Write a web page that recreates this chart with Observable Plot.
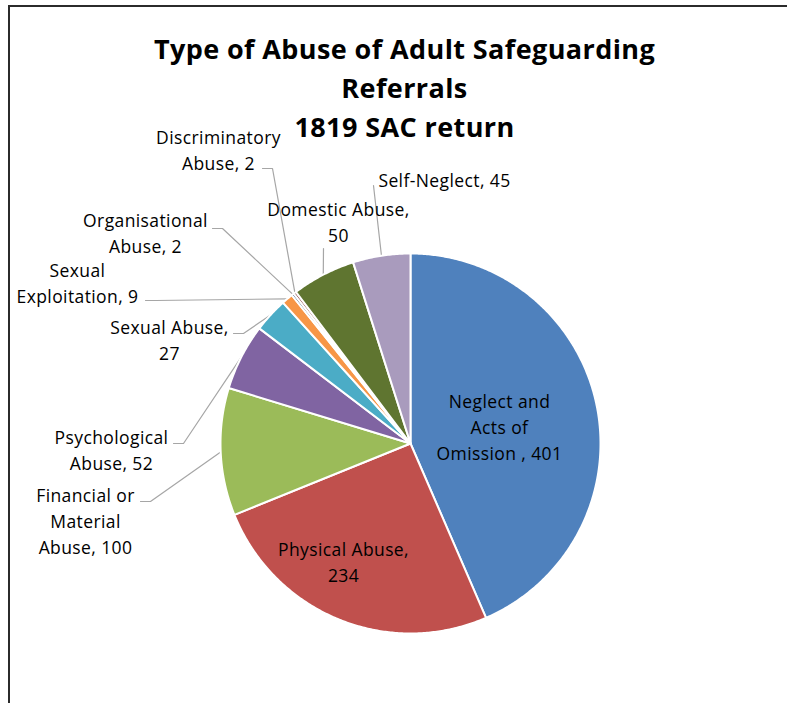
<!DOCTYPE html>
<html><head><meta charset="utf-8">
<script src="https://cdn.jsdelivr.net/npm/d3@7"></script>
<script src="https://cdn.jsdelivr.net/npm/@observablehq/plot@0.6"></script>
<style>
body{margin:0;background:#fff;}
#wrap{position:relative;width:787px;height:703px;overflow:hidden;background:#fff;}
#frame{position:absolute;left:8px;top:5px;width:900px;height:900px;border-left:2px solid #2b2b2b;border-top:2px solid #2b2b2b;box-sizing:border-box;}
#chart{position:absolute;left:0;top:0;}
#chart text{letter-spacing:0.4px;}
</style></head><body><div id="wrap"><div id="frame"></div><div id="chart"></div></div>
<script>
// ---- data ----
const categories = [
  "Neglect and Acts of Omission ",
  "Physical Abuse",
  "Financial or Material Abuse",
  "Psychological Abuse",
  "Sexual Abuse",
  "Sexual Exploitation",
  "Organisational Abuse",
  "Discriminatory Abuse",
  "Domestic Abuse",
  "Self-Neglect"
];
const values = [401, 234, 100, 52, 27, 9, 2, 2, 50, 45];
const colors = ["#4F81BD","#C0504D","#9BBB59","#8064A2","#4BACC6","#F79646","#2C4D75","#772C2A","#5F7530","#A99BBD"];
const titleLines = ["Type of Abuse of Adult Safeguarding", "Referrals", "1819 SAC return"];

// ---- layout (pixels) ----
const W = 787, H = 703, CX = 410, CY = 443, R = 190;
const FONT = "'Open Sans', Lato, sans-serif";
const LABEL_SIZE = 17.5, LINE_PX = 26;
const layout = [
  {x: 499, y: 399, wrap: 14, leader: null},
  {x: 343, y: 547, wrap: 15, leader: null},
  {x: 85,  y: 493, wrap: 12, leader: [[140, 501], [150, 501]]},
  {x: 111, y: 435, wrap: 13, leader: [[173, 443], [183, 443]]},
  {x: 169, y: 325, wrap: 13, leader: [[233, 333], [243, 333]]},
  {x: 77,  y: 268, wrap: 15, leader: [[145, 300], [155, 300]]},
  {x: 145, y: 218, wrap: 14, leader: [[212, 228], [222, 228]]},
  {x: 218, y: 135, wrap: 14, leader: [[262, 168], [272, 168]]},
  {x: 338, y: 207, wrap: 15, leader: [[323, 248]]},
  {x: 444, y: 178, wrap: 20, leader: [[373, 185]]}
];

function wrapText(s, max) {
  const words = s.split(" ");
  const lines = [];
  let cur = "";
  for (const w of words) {
    if (cur === "") cur = w;
    else if ((cur + " " + w).length <= max) cur += " " + w;
    else { lines.push(cur); cur = w; }
  }
  if (cur) lines.push(cur);
  return lines;
}

const arcs = d3.pie().sort(null).value(d => d)(values);

// slice polygons
const slicePts = [];
arcs.forEach((a, i) => {
  const name = categories[i];
  slicePts.push({name, x: CX, y: CY});
  const n = Math.max(2, Math.ceil((a.endAngle - a.startAngle) / (Math.PI / 360)));
  for (let k = 0; k <= n; k++) {
    const t = a.startAngle + (a.endAngle - a.startAngle) * k / n;
    slicePts.push({name, x: CX + R * Math.sin(t), y: CY - R * Math.cos(t)});
  }
  slicePts.push({name, x: CX, y: CY});
});

// leader lines
const leaderPts = [];
arcs.forEach((a, i) => {
  const L = layout[i];
  if (!L.leader) return;
  const name = categories[i];
  L.leader.forEach(p => leaderPts.push({name, x: p[0], y: p[1]}));
  const m = (a.startAngle + a.endAngle) / 2;
  leaderPts.push({name, x: CX + R * Math.sin(m), y: CY - R * Math.cos(m)});
});

// labels
const labels = arcs.map((a, i) => {
  const L = layout[i];
  const lines = wrapText(categories[i] + ", " + values[i], L.wrap);
  return {text: lines.join("\n"), x: L.x, y: L.y + (lines.length - 1) * LINE_PX / 2};
});

const titleData = [{text: titleLines.join("\n"), x: 404, y: 85}];

const chart = Plot.plot({
  width: W, height: H,
  margin: 0,
  x: {domain: [0, W], range: [0, W], axis: null},
  y: {domain: [0, H], range: [0, H], axis: null},
  color: {domain: categories, range: colors},
  style: {fontFamily: FONT, background: "transparent"},
  marks: [
    Plot.line(leaderPts, {x: "x", y: "y", z: "name", stroke: "#A6A6A6", strokeWidth: 1.2}),
    Plot.line(slicePts, {x: "x", y: "y", z: "name", fill: "name", stroke: "white", strokeWidth: 2, strokeLinejoin: "round", curve: "linear"}),
    Plot.text(labels, {x: "x", y: "y", text: "text", fontSize: LABEL_SIZE, lineHeight: LINE_PX / LABEL_SIZE, fill: "#000", lineAnchor: "middle", fontFamily: FONT}),
    Plot.text(titleData, {x: "x", y: "y", text: "text", fontSize: 27, fontWeight: "bold", lineHeight: 39 / 27, fill: "#000", lineAnchor: "middle", fontFamily: FONT})
  ]
});
document.getElementById("chart").appendChild(chart);
</script>
</body></html>
